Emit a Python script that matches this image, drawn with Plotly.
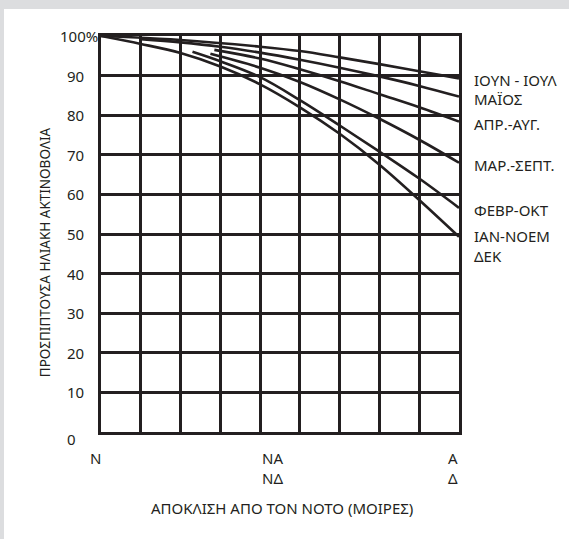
import plotly.graph_objects as go

# ---- data (x in degrees of deviation from south, y in % of incident radiation)
series_names = ["ΙΟΥΝ - ΙΟΥΛ", "ΜΑΪΟΣ", "ΑΠΡ.-ΑΥΓ.", "ΜΑΡ.-ΣΕΠΤ.", "ΦΕΒΡ-ΟΚΤ", "ΙΑΝ-ΝΟΕΜ<br>ΔΕΚ"]

jun_x = [0, 20, 40, 50, 60, 70, 80, 90]
jun_y = [100, 99, 97.3, 96.2, 94.6, 92.9, 91.1, 89.3]

may_x = [10, 20, 30, 40, 50, 60, 70, 80, 90]
may_y = [99.2, 98.4, 97.3, 95.8, 94.0, 92.0, 89.8, 87.4, 84.7]

apr_x = [28.5, 40, 50, 60, 70, 80, 90]
apr_y = [96.5, 94.3, 91.6, 88.6, 85.3, 82.0, 78.4]

mar_x = [27.5, 40, 50, 60, 70, 80, 90]
mar_y = [95.5, 92.0, 88.4, 84.0, 79.1, 73.8, 68.0]

feb_x = [23, 30, 40, 50, 60, 70, 80, 90]
feb_y = [96.0, 93.6, 89.6, 83.8, 77.4, 70.8, 64.0, 56.6]

jan_x = [0, 10, 20, 30, 40, 50, 60, 70, 80, 90]
jan_y = [100, 98.0, 95.7, 92.3, 87.8, 82.0, 75.3, 67.5, 58.6, 49.3]

series_x = [jun_x, may_x, apr_x, mar_x, feb_x, jan_x]
series_y = [jun_y, may_y, apr_y, mar_y, feb_y, jan_y]

y_tick_vals = [100, 90, 80, 70, 60, 50, 40, 30, 20, 10, 0]
y_tick_text = ["100%", "90", "80", "70", "60", "50", "40", "30", "20", "10", "0"]

x_tick_vals = [0, 45, 90]
x_tick_text = ["N", "NA<br>NΔ", "A<br>Δ"]

x_title = "ΑΠΟΚΛΙΣΗ ΑΠΟ ΤΟΝ ΝΟΤΟ (ΜΟΙΡΕΣ)"
y_title = "ΠΡΟΣΠΙΠΤΟΥΣΑ ΗΛΙΑΚΗ ΑΚΤΙΝΟΒΟΛΙΑ"

INK = "#231f20"
FONT = "Noto Sans"

fig = go.Figure()
for name, xs, ys in zip(series_names, series_x, series_y):
    fig.add_trace(go.Scatter(x=xs, y=ys, mode="lines", name=name,
                             line=dict(color=INK, width=2.6, shape="spline", smoothing=1.0),
                             hoverinfo="skip", showlegend=False))

annotations = []
# curve labels at the end of each curve
for name, ys in zip(series_names, series_y):
    annotations.append(dict(x=1, xref="paper", xshift=13, y=ys[-1], yref="y",
                            yshift=(-9 if "<br>" in name else -2),
                            text=name, showarrow=False, xanchor="left", yanchor="middle",
                            align="left", font=dict(size=15, color=INK, family=FONT)))
# y tick labels
for v, t in zip(y_tick_vals, y_tick_text):
    annotations.append(dict(x=(-0.12 if t.endswith("%") else -0.1006), xref="paper",
                            y=v, yref="y", yshift=(-7 if v == 0 else 0),
                            text=t, showarrow=False, xanchor="left", yanchor="middle",
                            font=dict(size=15, color=INK, family=FONT)))
# x tick labels
for v, t in zip(x_tick_vals, x_tick_text):
    annotations.append(dict(x=v, xref="x", xshift=(-6 if v != 45 else -8),
                            y=-0.036, yref="paper", yanchor="top",
                            text=t, showarrow=False, xanchor="center",
                            font=dict(size=15, color=INK, family=FONT)))
annotations.append(dict(x=0.5056, xref="paper", y=-0.192, yref="paper",
                        xanchor="center", yanchor="middle",
                        text=x_title, showarrow=False,
                        font=dict(size=15, color=INK, family=FONT)))
annotations.append(dict(x=-0.156, xref="paper", y=0.4545, yref="paper",
                        xanchor="center", yanchor="middle",
                        text=y_title, showarrow=False, textangle=-90,
                        font=dict(size=13.5, color=INK, family=FONT)))

fig.update_layout(
    width=569, height=539,
    margin=dict(l=101, r=110, t=36, b=107),
    paper_bgcolor="#dcdddf",
    plot_bgcolor="white",
    annotations=annotations,
    shapes=[dict(type="rect", xref="paper", yref="paper",
                 x0=(4 - 101) / 358, x1=(569 - 101) / 358 + 0.01,
                 y0=(432 - 545) / 396, y1=(432 - 9) / 396,
                 fillcolor="white", line=dict(width=0), layer="below")],
)
fig.update_xaxes(range=[0, 90], showticklabels=False, ticks="",
                 showgrid=False, zeroline=False,
                 showline=True, linewidth=3, linecolor=INK, mirror=True,
                 tickvals=x_tick_vals,
                 minor=dict(dtick=10, tick0=0, showgrid=True, gridcolor=INK, gridwidth=3))
fig.update_yaxes(range=[0, 100], showticklabels=False, ticks="",
                 dtick=10, showgrid=True, gridcolor=INK, gridwidth=3, zeroline=False,
                 showline=True, linewidth=3, linecolor=INK, mirror=True)

fig.write_html("out.html", config={"displayModeBar": False},
               post_script="document.body.style.margin='0';")
